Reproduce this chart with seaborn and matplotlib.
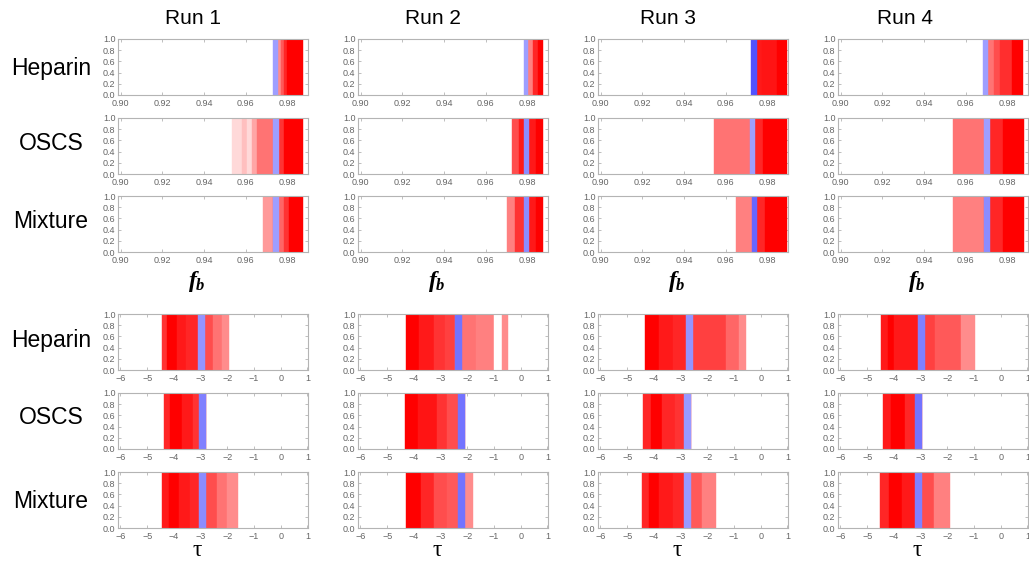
import matplotlib
matplotlib.use("Agg")
import matplotlib.pyplot as plt
import seaborn as sns

runs = ["Run 1", "Run 2", "Run 3", "Run 4"]
samples = ["Heparin", "OSCS", "Mixture"]

fb_ticks = [0.90, 0.92, 0.94, 0.96, 0.98]
tau_ticks = [-6, -5, -4, -3, -2, -1, 0, 1]
y_ticks = [0.0, 0.2, 0.4, 0.6, 0.8, 1.0]

# ---- f_b bands: edges, red shade per band, blue marker band (lo, hi, shade)
fb_heparin_r1_edges = [0.9756, 0.9770, 0.9783, 0.9800, 0.9877]
fb_heparin_r1_shade = [0.45, 0.65, 0.85, 1.0]
fb_heparin_r1_blue = (0.9732, 0.9756, 0.38)

fb_heparin_r2_edges = [0.9806, 0.9830, 0.9854, 0.9877]
fb_heparin_r2_shade = [0.5, 0.85, 1.0]
fb_heparin_r2_blue = (0.9783, 0.9806, 0.38)

fb_heparin_r3_edges = [0.9751, 0.9775, 0.9849, 0.9895]
fb_heparin_r3_shade = [0.9, 0.92, 1.0]
fb_heparin_r3_blue = (0.9724, 0.9751, 0.68)

fb_heparin_r4_edges = [0.9708, 0.9735, 0.9767, 0.9822, 0.9878]
fb_heparin_r4_shade = [0.55, 0.7, 0.82, 1.0]
fb_heparin_r4_blue = (0.9684, 0.9708, 0.38)

fb_oscs_r1_edges = [0.9537, 0.9581, 0.9608, 0.9632, 0.9656, 0.9732, 0.9759, 0.9783, 0.9877]
fb_oscs_r1_shade = [0.15, 0.25, 0.15, 0.35, 0.55, 0.6, 0.8, 1.0]
fb_oscs_r1_blue = (0.9732, 0.9759, 0.38)

fb_oscs_r2_edges = [0.9728, 0.9760, 0.9785, 0.9809, 0.9840, 0.9877]
fb_oscs_r2_shade = [0.7, 0.9, 0.9, 0.9, 1.0]
fb_oscs_r2_blue = (0.9785, 0.9809, 0.45)

fb_oscs_r3_edges = [0.9546, 0.9715, 0.9740, 0.9780, 0.9895]
fb_oscs_r3_shade = [0.55, 0.55, 0.85, 1.0]
fb_oscs_r3_blue = (0.9715, 0.9740, 0.38)

fb_oscs_r4_edges = [0.9540, 0.9690, 0.9715, 0.9780, 0.9880]
fb_oscs_r4_shade = [0.55, 0.55, 0.85, 1.0]
fb_oscs_r4_blue = (0.9690, 0.9715, 0.38)

fb_mixture_r1_edges = [0.9684, 0.9730, 0.9759, 0.9783, 0.9810, 0.9877]
fb_mixture_r1_shade = [0.4, 0.6, 0.6, 0.8, 1.0]
fb_mixture_r1_blue = (0.9730, 0.9759, 0.38)

fb_mixture_r2_edges = [0.9704, 0.9740, 0.9785, 0.9809, 0.9840, 0.9877]
fb_mixture_r2_shade = [0.5, 0.8, 0.85, 0.9, 1.0]
fb_mixture_r2_blue = (0.9785, 0.9809, 0.45)

fb_mixture_r3_edges = [0.9652, 0.9725, 0.9750, 0.9790, 0.9895]
fb_mixture_r3_shade = [0.5, 0.5, 0.85, 1.0]
fb_mixture_r3_blue = (0.9725, 0.9750, 0.6)

fb_mixture_r4_edges = [0.9540, 0.9690, 0.9715, 0.9780, 0.9880]
fb_mixture_r4_shade = [0.5, 0.6, 0.85, 1.0]
fb_mixture_r4_blue = (0.9690, 0.9715, 0.45)

# ---- tau bands
tau_heparin_r1_edges = [-4.45, -4.25, -3.90, -3.55, -3.10, -2.85, -2.55, -2.20, -1.95]
tau_heparin_r1_shade = [0.8, 1.0, 0.9, 0.85, 0.85, 0.7, 0.55, 0.45]
tau_heparin_r1_blue = (-3.10, -2.85, 0.42)

tau_heparin_r2_edges = [-4.28, -3.79, -3.24, -2.82, -2.45, -2.21, -1.66, -1.01, -0.72, -0.48]
tau_heparin_r2_shade = [1.0, 0.9, 0.8, 0.75, 0.6, 0.55, 0.5, 0.0, 0.45]
tau_heparin_r2_blue = (-2.45, -2.21, 0.55)

tau_heparin_r3_edges = [-4.34, -3.82, -3.27, -2.78, -2.53, -1.31, -0.82, -0.55]
tau_heparin_r3_shade = [1.0, 0.9, 0.85, 0.8, 0.75, 0.6, 0.45]
tau_heparin_r3_blue = (-2.78, -2.53, 0.42)

tau_heparin_r4_edges = [-4.49, -4.22, -4.00, -3.10, -2.85, -2.45, -1.48, -0.96]
tau_heparin_r4_shade = [0.9, 1.0, 0.9, 0.8, 0.75, 0.65, 0.45]
tau_heparin_r4_blue = (-3.10, -2.85, 0.5)

tau_oscs_r1_edges = [-4.35, -4.15, -3.70, -3.30, -3.05, -2.80]
tau_oscs_r1_shade = [0.85, 1.0, 0.9, 0.8, 0.8]
tau_oscs_r1_blue = (-3.05, -2.80, 0.5)

tau_oscs_r2_edges = [-4.34, -3.85, -3.12, -2.76, -2.33, -2.09]
tau_oscs_r2_shade = [1.0, 0.92, 0.8, 0.7, 0.7]
tau_oscs_r2_blue = (-2.33, -2.09, 0.55)

tau_oscs_r3_edges = [-4.39, -4.10, -3.70, -3.20, -2.87, -2.60]
tau_oscs_r3_shade = [0.85, 1.0, 0.85, 0.8, 0.8]
tau_oscs_r3_blue = (-2.87, -2.60, 0.4)

tau_oscs_r4_edges = [-4.40, -4.10, -3.60, -3.20, -2.94]
tau_oscs_r4_shade = [0.9, 1.0, 0.85, 0.8]
tau_oscs_r4_blue = (-3.20, -2.94, 0.55)

tau_mixture_r1_edges = [-4.43, -4.20, -3.80, -3.40, -3.05, -2.80, -2.40, -2.00, -1.60]
tau_mixture_r1_shade = [0.9, 1.0, 0.9, 0.85, 0.8, 0.7, 0.55, 0.45]
tau_mixture_r1_blue = (-3.05, -2.80, 0.45)

tau_mixture_r2_edges = [-4.28, -3.73, -3.24, -2.76, -2.33, -2.09, -1.78]
tau_mixture_r2_shade = [1.0, 0.85, 0.7, 0.65, 0.6, 0.45]
tau_mixture_r2_blue = (-2.33, -2.09, 0.55)

tau_mixture_r3_edges = [-4.46, -4.20, -3.80, -3.30, -2.87, -2.60, -2.20, -1.66]
tau_mixture_r3_shade = [0.85, 1.0, 0.9, 0.85, 0.8, 0.65, 0.5]
tau_mixture_r3_blue = (-2.87, -2.60, 0.4)

tau_mixture_r4_edges = [-4.52, -4.20, -3.70, -3.20, -2.94, -2.50, -1.90]
tau_mixture_r4_shade = [0.85, 1.0, 0.9, 0.85, 0.7, 0.5]
tau_mixture_r4_blue = (-3.20, -2.94, 0.5)

sns.set_theme(style="white")
plt.rcParams["font.family"] = ["Liberation Sans", "DejaVu Sans"]
plt.rcParams["mathtext.fontset"] = "custom"
plt.rcParams["mathtext.it"] = "Liberation Serif:bold:italic"
plt.rcParams["mathtext.rm"] = "Liberation Serif:bold"

W, H = 1029, 566
fig = plt.figure(figsize=(W / 100, H / 100), dpi=100)
fig.patch.set_facecolor("white")

col_left = [118, 358, 598, 838]
ax_w = 190
top_rows = [39, 118, 196]
bottom_rows = [314, 393, 472]
ax_h = 56

FRAME = "#b4b4b4"
TICKTXT = "#666666"


def red(s):
    return (1.0, 1.0 - s, 1.0 - s)


def blue(s):
    return (1.0 - s, 1.0 - s, 1.0)


def panel(left, top, edges, shades, blue_band, xlim, xticks, fmt):
    ax = fig.add_axes([left / W, 1 - (top + ax_h) / H, ax_w / W, ax_h / H])
    lefts = edges[:-1]
    widths = [b - a for a, b in zip(edges[:-1], edges[1:])]
    cols = [red(s) for s in shades]
    ax.bar(lefts, [1.0] * len(lefts), width=widths, align="edge",
           color=cols, edgecolor=cols, linewidth=0.3)
    lo, hi, bs = blue_band
    ax.bar([lo], [1.0], width=[hi - lo], align="edge",
           color=blue(bs), edgecolor=blue(bs), linewidth=0.3)
    ax.set_xlim(*xlim)
    ax.set_ylim(0, 1.0)
    ax.set_xticks(xticks)
    ax.set_xticklabels([fmt(t) for t in xticks])
    ax.set_yticks(y_ticks)
    ax.set_yticklabels([f"{t:.1f}" for t in y_ticks])
    ax.tick_params(axis="both", labelsize=6.5, colors=FRAME, labelcolor=TICKTXT,
                   direction="in", length=2, width=0.6,
                   top=True, right=True, bottom=True, left=True)
    ax.tick_params(axis="x", pad=3.2)
    ax.tick_params(axis="y", pad=1.8)
    for sp in ax.spines.values():
        sp.set_color(FRAME)
        sp.set_linewidth(0.8)
    ax.grid(False)
    return ax


def fb_fmt(t):
    return f"{t:.2f}"


def tau_fmt(t):
    return f"{t:d}".replace("-", "\u2212")


g = globals()
for ci in range(4):
    for ri, sname in enumerate(samples):
        key = sname.lower()
        panel(col_left[ci], top_rows[ri],
              g[f"fb_{key}_r{ci + 1}_edges"], g[f"fb_{key}_r{ci + 1}_shade"],
              g[f"fb_{key}_r{ci + 1}_blue"], (0.8987, 0.990), fb_ticks, fb_fmt)
        panel(col_left[ci], bottom_rows[ri],
              g[f"tau_{key}_r{ci + 1}_edges"], g[f"tau_{key}_r{ci + 1}_shade"],
              g[f"tau_{key}_r{ci + 1}_blue"], (-6.09, 1.02), tau_ticks, tau_fmt)


def px_text(x, y, s, **kw):
    fig.text(x / W, 1 - y / H, s, ha="center", va="center", **kw)


title_x = [193, 433, 668, 905]
for ci, r in enumerate(runs):
    px_text(title_x[ci], 18, r, fontsize=15, color="black")

label_x = [197, 437, 677, 917]
for ci in range(4):
    px_text(label_x[ci], 282, r"$f_b$", fontsize=17, color="black")
    px_text(label_x[ci], 550, "\u03c4", fontsize=17, color="black",
            family=["Liberation Serif", "DejaVu Serif"])

for yy, s in zip([68, 143, 222], samples):
    px_text(51, yy, s, fontsize=16.5, color="black")
for yy, s in zip([341, 418, 502], samples):
    px_text(51, yy, s, fontsize=16.5, color="black")

fig.savefig("out.png", dpi=100, facecolor="white")
